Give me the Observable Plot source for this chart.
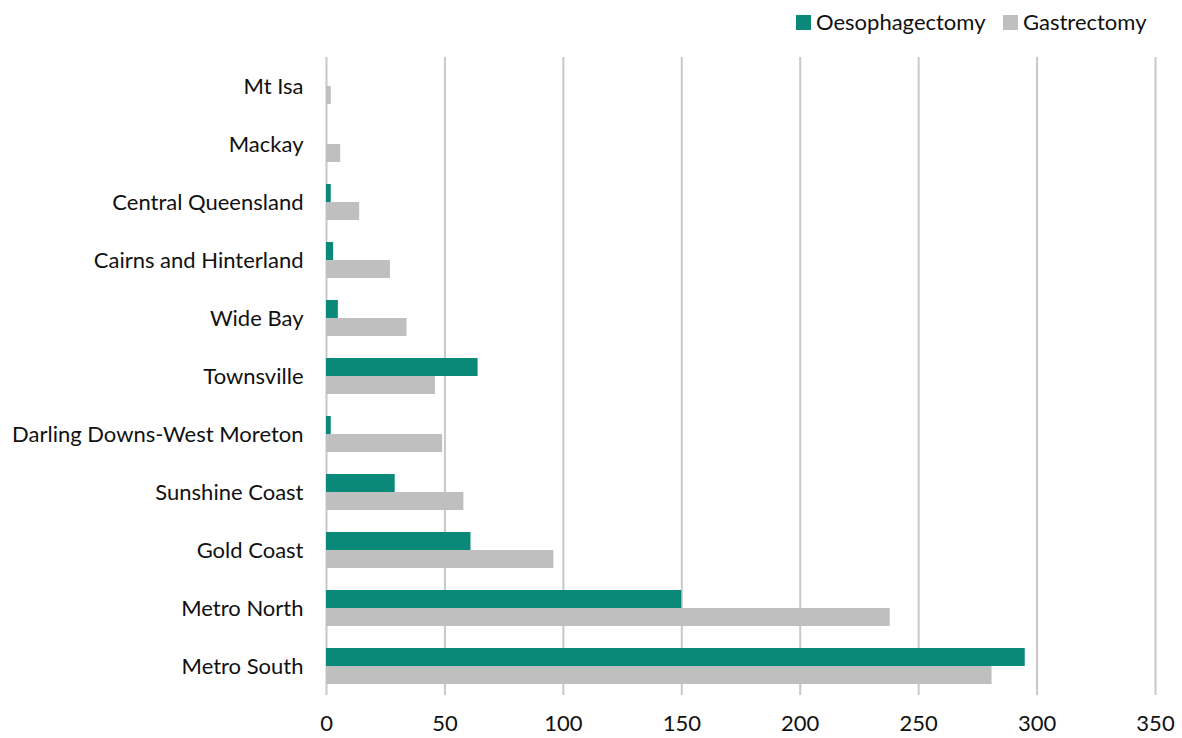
<!DOCTYPE html>
<html>
<head>
<meta charset="utf-8">
<script src="https://cdn.jsdelivr.net/npm/d3@7"></script>
<script src="https://cdn.jsdelivr.net/npm/@observablehq/plot@0.6"></script>
<style>
  html, body { margin: 0; padding: 0; background: #fff; }
  body { width: 1182px; height: 738px; overflow: hidden; font-family: Lato, "Open Sans", sans-serif; }
  #legend { position: relative; height: 45px; width: 1182px; }
  .sw { position: absolute; width: 15px; height: 15px; top: 15px; }
  .lt { position: absolute; top: 7px; font-size: 22px; line-height: 30px; color: #111; white-space: nowrap; }
  #chart svg { display: block; overflow: visible; }
</style>
</head>
<body>
<div id="legend"></div>
<div id="chart"></div>
<script>
const regions = ["Mt Isa", "Mackay", "Central Queensland", "Cairns and Hinterland", "Wide Bay", "Townsville", "Darling Downs-West Moreton", "Sunshine Coast", "Gold Coast", "Metro North", "Metro South"];
const oesophagectomy = [0, 0, 2, 3, 5, 64, 2, 29, 61, 150, 295];
const gastrectomy = [2, 6, 14, 27, 34, 46, 49, 58, 96, 238, 281];
const seriesNames = ["Oesophagectomy", "Gastrectomy"];
const seriesColors = ["#0a8878", "#bfbfbf"];
const xTicks = [0, 50, 100, 150, 200, 250, 300, 350];

const oesoData = regions.map((r, i) => ({region: r, value: oesophagectomy[i]}));
const gastData = regions.map((r, i) => ({region: r, value: gastrectomy[i]}));

// legend
const legend = document.getElementById("legend");
const legendPos = [[796, 816], [1003, 1023]];
seriesNames.forEach((name, i) => {
  const sw = document.createElement("div");
  sw.className = "sw";
  sw.style.left = legendPos[i][0] + "px";
  sw.style.background = seriesColors[i];
  legend.appendChild(sw);
  const t = document.createElement("div");
  t.className = "lt";
  t.style.left = legendPos[i][1] + "px";
  t.textContent = name;
  legend.appendChild(t);
});

const chart = Plot.plot({
  width: 1182,
  height: 693,
  marginLeft: 326,
  marginRight: 27,
  marginTop: 12,
  marginBottom: 43,
  style: {fontFamily: "Lato, 'Open Sans', sans-serif", fontSize: "22px", color: "#111", background: "#fff"},
  x: {domain: [0, 350], ticks: xTicks, tickSize: 0, tickPadding: 20, label: null, grid: false},
  y: {domain: regions, paddingInner: 0.38, paddingOuter: 0.17, tickSize: 0, tickPadding: 23, label: null},
  marks: [
    Plot.ruleX(xTicks, {stroke: "#c8c8c8", strokeWidth: 2}),
    Plot.barX(oesoData, {y: "region", x: "value", fill: seriesColors[0], insetBottom: 18}),
    Plot.barX(gastData, {y: "region", x: "value", fill: seriesColors[1], insetTop: 18})
  ]
});
document.getElementById("chart").appendChild(chart);
</script>
</body>
</html>
